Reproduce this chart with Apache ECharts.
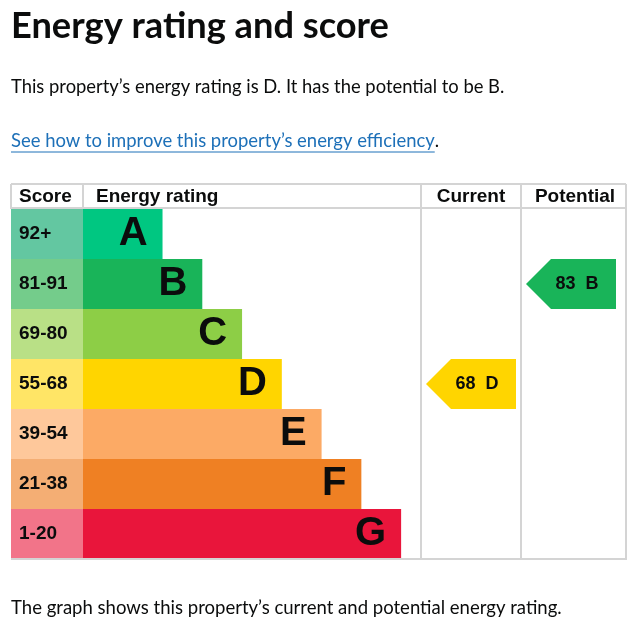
<!DOCTYPE html>
<html><head><meta charset="utf-8">
<script src="https://cdn.jsdelivr.net/npm/echarts@6/dist/echarts.min.js"></script>
<style>html,body{margin:0;padding:0;background:#fff}#c{width:640px;height:627px}</style>
</head><body><div id="c"></div>
<script>
// ---- data ----
const bands = ['A','B','C','D','E','F','G'];
const scoreRanges = ['92+','81-91','69-80','55-68','39-54','21-38','1-20'];
const bandLengths = [2,3,4,5,6,7,8];
const bandColors = ['#00c781','#19b459','#8dce46','#ffd500','#fcaa65','#ef8023','#e9153b'];
const scoreColors = ['#63c7a1','#74cc8b','#b9e086','#ffe566','#fec89b','#f4ae74','#f27489'];
const currentScore = 68, currentBand = 'D';
const potentialScore = 83, potentialBand = 'B';
const columnHeaders = ['Score','Energy rating','Current','Potential'];
const titleText = 'Energy rating and score';
const introText = 'This property\u2019s energy rating is D. It has the potential to be B.';
const linkText = 'See how to improve this property\u2019s energy efficiency';
const footText = 'The graph shows this property\u2019s current and potential energy rating.';

// ---- layout ----
const TXT = '#0b0c0c', LINK = '#1d70b8', BORDER = '#d4d4d4';
const SANS = 'Lato, "Noto Sans", sans-serif';
const ARIAL = '"Liberation Sans", Arial, sans-serif';
const ctx = document.createElement('canvas').getContext('2d');
function measure(t, font){ ctx.font = font; return ctx.measureText(t).width; }
function fit(t, weight, target, base){ return base * target / measure(t, weight + ' ' + base + 'px ' + SANS); }
const titleSize = fit(titleText, 700, 378, 36);
const introSize = fit(introText, 400, 494, 19);
const linkSize = fit(linkText, 400, 424, 19);
const footSize = fit(footText, 400, 551, 19);
const linkW = measure(linkText, '400 ' + linkSize + 'px ' + SANS);

const TOP = 184, HEAD = 209, BOT = 559, L = 11, R = 626;

const chart = echarts.init(document.getElementById('c'), null, {renderer:'canvas'});
const yCat = (gi) => ({type:'category', gridIndex:gi, data:bands, inverse:true, show:false});
const line = (x1,y1,x2,y2,color,w) => ({type:'line', z:10, shape:{x1,y1,x2,y2}, style:{stroke:color||BORDER, lineWidth:w||2}});
const arrowPath = 'path://M0,25 L25,0 L90,0 L90,50 L25,50 Z';
const lbl = (size) => ({fontSize:size, fontWeight:'bold', fontFamily:ARIAL, color:TXT});

const graphics = [
  {type:'text', left:L, top:8, style:{text:titleText, font:'700 '+titleSize+'px '+SANS, fill:TXT}},
  {type:'text', x:L, y:87, style:{text:introText, font:'400 '+introSize+'px '+SANS, fill:TXT, verticalAlign:'middle'}},
  {type:'text', x:L, y:141, style:{text:linkText, font:'400 '+linkSize+'px '+SANS, fill:LINK, verticalAlign:'middle'}},
  {type:'text', x:L+linkW, y:141, style:{text:'.', font:'400 '+linkSize+'px '+SANS, fill:TXT, verticalAlign:'middle'}},
  line(L, 152, L+linkW, 152, LINK, 1),
  {type:'text', x:L, y:608, style:{text:footText, font:'400 '+footSize+'px '+SANS, fill:TXT, verticalAlign:'middle'}},
  {type:'text', x:19, y:197, style:{text:columnHeaders[0], font:'700 19px '+ARIAL, fill:TXT, verticalAlign:'middle'}},
  {type:'text', x:96, y:197, style:{text:columnHeaders[1], font:'700 19px '+ARIAL, fill:TXT, verticalAlign:'middle'}},
  {type:'text', x:471, y:197, style:{text:columnHeaders[2], font:'700 19px '+ARIAL, fill:TXT, align:'center', verticalAlign:'middle'}},
  {type:'text', x:575, y:197, style:{text:columnHeaders[3], font:'700 19px '+ARIAL, fill:TXT, align:'center', verticalAlign:'middle'}},
  line(L, TOP, R, TOP), line(L, HEAD-1, R, HEAD-1), line(L, BOT, R, BOT),
  line(L, TOP, L, HEAD), line(83, TOP, 83, HEAD),
  line(421, TOP, 421, BOT+1), line(521, TOP, 521, BOT+1), line(R, TOP, R, BOT+1)
];

chart.setOption({
  backgroundColor:'#fff',
  animation:false,
  grid:[
    {left:L, top:HEAD, width:72, height:350},
    {left:83, top:HEAD, width:338, height:350},
    {left:421, top:HEAD, width:100, height:350},
    {left:521, top:HEAD, width:100, height:350}
  ],
  xAxis:[
    {type:'value', gridIndex:0, min:0, max:1, show:false},
    {type:'value', gridIndex:1, min:0, max:8.5, show:false},
    {type:'value', gridIndex:2, min:0, max:1, show:false},
    {type:'value', gridIndex:3, min:0, max:1, show:false}
  ],
  yAxis:[yCat(0), yCat(1), yCat(2), yCat(3)],
  series:[
    {type:'bar', xAxisIndex:0, yAxisIndex:0, barWidth:'100%',
      data: scoreRanges.map((s,i)=>({value:1, itemStyle:{color:scoreColors[i]}})),
      label:Object.assign({show:true, position:'insideLeft', distance:8, formatter:(p)=>scoreRanges[p.dataIndex]}, lbl(19))},
    {type:'bar', xAxisIndex:1, yAxisIndex:1, barWidth:'100%',
      data: bandLengths.map((v,i)=>({value:v, itemStyle:{color:bandColors[i]}})),
      label:Object.assign({show:true, position:'insideRight', distance:15, formatter:(p)=>bands[p.dataIndex]}, lbl(40))},
    {type:'scatter', xAxisIndex:2, yAxisIndex:2, symbol:arrowPath, symbolSize:[90,50],
      data:[{value:[0.5, currentBand], itemStyle:{color:bandColors[bands.indexOf(currentBand)], opacity:1}}],
      label:Object.assign({show:true, position:'inside', offset:[6,0], formatter:()=>currentScore+'  '+currentBand}, lbl(18))},
    {type:'scatter', xAxisIndex:3, yAxisIndex:3, symbol:arrowPath, symbolSize:[90,50],
      data:[{value:[0.5, potentialBand], itemStyle:{color:bandColors[bands.indexOf(potentialBand)], opacity:1}}],
      label:Object.assign({show:true, position:'inside', offset:[6,0], formatter:()=>potentialScore+'  '+potentialBand}, lbl(18))}
  ],
  graphic: graphics
});
</script></body></html>
